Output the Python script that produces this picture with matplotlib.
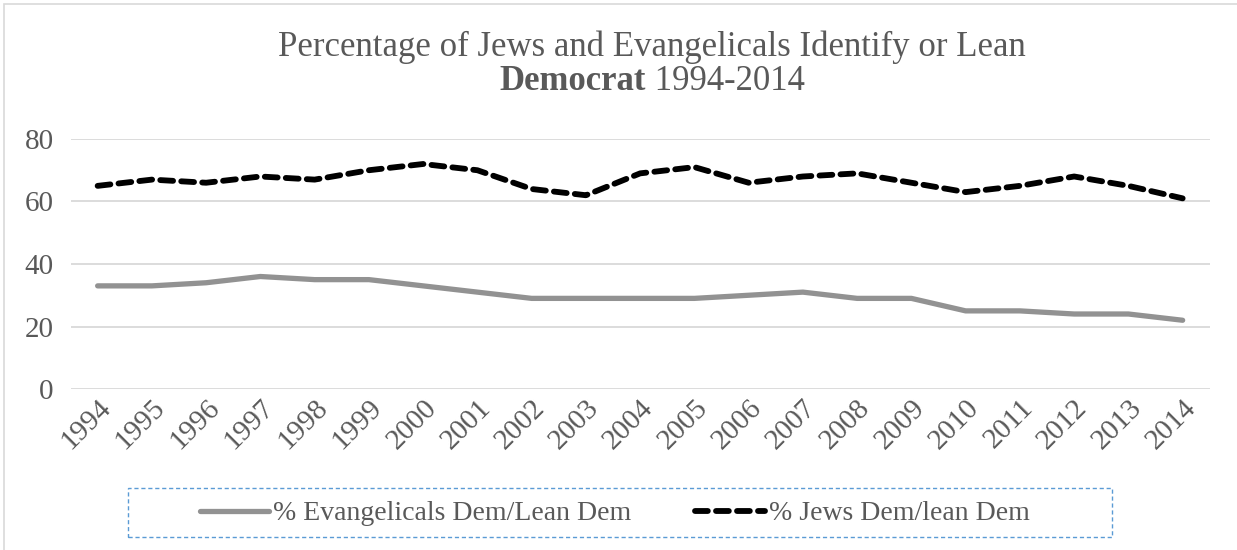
import numpy as np
import matplotlib.pyplot as plt
from matplotlib.patches import Rectangle

years = [str(y) for y in range(1994, 2015)]
evangelicals = [33, 33, 34, 36, 35, 35, 33, 31, 29, 29, 29, 29, 30, 31, 29, 29, 25, 25, 24, 24, 22]
jews = [65, 67, 66, 68, 67, 70, 72, 70, 64, 62, 69, 71, 66, 68, 69, 66, 63, 65, 68, 65, 61]

plt.rcParams['font.family'] = ['Liberation Serif', 'DejaVu Serif']
text_col = '#595959'

fig = plt.figure(figsize=(12.37, 5.5), dpi=100)
ax = fig.add_axes([0.057, 0.2927, 0.921, 0.4546])

x = np.arange(len(years))
l1, = ax.plot(x, evangelicals, color='#929292', lw=3.8, solid_capstyle='round',
              label='% Evangelicals Dem/Lean Dem')
l2, = ax.plot(x, jews, color='black', lw=4.2, linestyle=(0, (2.2, 1.4)),
              dash_capstyle='round', label='% Jews Dem/lean Dem')

ax.set_xlim(-0.5, len(years) - 0.5)
ax.set_ylim(0, 80)
ax.set_yticks([0, 20, 40, 60, 80])
ax.set_xticks(x)
ax.set_xticklabels(years, rotation=45, ha='right', rotation_mode='anchor')
ax.tick_params(axis='both', length=0, labelsize=21, labelcolor=text_col)
ax.tick_params(axis='y', pad=12)
ax.tick_params(axis='x', pad=4)
ax.grid(axis='y', color='#d9d9d9', lw=1.3)
ax.set_axisbelow(True)
for s in ax.spines.values():
    s.set_visible(False)

fig.text(0.527, 0.915, 'Percentage of Jews and Evangelicals Identify or Lean',
         ha='center', va='center', fontsize=25, color=text_col)
t1 = fig.text(0.0, 0.852, 'Democrat', ha='left', va='center', fontsize=25,
              color=text_col, fontweight='bold')
t2 = fig.text(0.0, 0.852, ' 1994-2014', ha='left', va='center', fontsize=25,
              color=text_col)
fig.canvas.draw()
r = fig.canvas.get_renderer()
w1 = t1.get_window_extent(r).width / fig.bbox.width
w2 = t2.get_window_extent(r).width / fig.bbox.width
start = 0.527 - (w1 + w2) / 2
t1.set_x(start)
t2.set_x(start + w1)

leg = fig.legend(handles=[l1, l2], loc='center', bbox_to_anchor=(0.497, 0.066),
                 ncol=2, frameon=False, fontsize=20, handlelength=2.5,
                 columnspacing=2.3, handletextpad=0.15)
for t in leg.get_texts():
    t.set_color(text_col)

fig.patches.append(Rectangle((128 / 1237, 1 - 537 / 550), (1112 - 128) / 1237, 49 / 550,
                             transform=fig.transFigure, fill=False, ec='#5b9bd5',
                             lw=1.0, ls=(0, (3, 2))))
fig.patches.append(Rectangle((4 / 1237, -0.02), 1.1, 1 - 4 / 550 + 0.02,
                             transform=fig.transFigure, fill=False, ec='#d9d9d9', lw=1.2))

fig.savefig('out.png', dpi=100)
